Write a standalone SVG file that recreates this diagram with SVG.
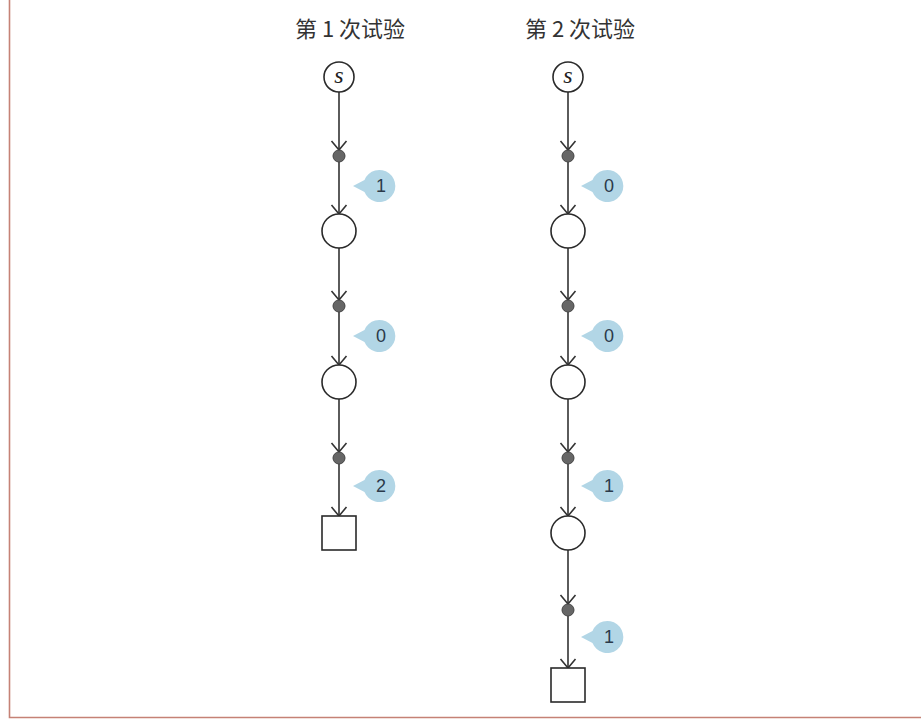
<svg xmlns="http://www.w3.org/2000/svg" width="921" height="720" viewBox="0 0 921 720">
<style>
.title{font-family:"Noto Sans CJK SC","Noto Sans",sans-serif;font-size:22px;fill:#333;text-anchor:middle}
.node{fill:#fff;stroke:#2a2a2a;stroke-width:1.6}
.dot{fill:#666;stroke:#444;stroke-width:1}
.edge{stroke:#333;stroke-width:1.6;fill:none;marker-end:url(#arr)}
.bub{fill:#b2d6e6}
.num{font-family:"Liberation Sans",Arial,sans-serif;font-size:18px;fill:#2b3a4a;text-anchor:middle}
.s{font-family:"Liberation Serif","Times New Roman",serif;font-style:italic;font-size:24px;fill:#222;text-anchor:middle}
</style>
<defs>
<marker id="arr" markerUnits="userSpaceOnUse" markerWidth="12" markerHeight="18" viewBox="0 0 12 18" refX="10" refY="9" orient="auto">
<path d="M1,1.5 L10,9 L1,16.5" fill="none" stroke="#333" stroke-width="1.6"/>
</marker>
<path id="bubble" d="M-26,0 L-14.5,-6 A16,16 0 1 1 -14.5,6 Z"/>
</defs>
<rect width="921" height="720" fill="#fff"/>
<path d="M9.5,0 V717.5 H921" fill="none" stroke="#c58276" stroke-width="1.6"/>

<text class="title" x="350" y="37">第 1 次试验</text>
<text class="title" x="580" y="37">第 2 次试验</text>

<g id="connectors">
<line class="edge" x1="339" y1="92" x2="339" y2="150"/>
<line class="edge" x1="339" y1="162" x2="339" y2="214"/>
<line class="edge" x1="339" y1="248" x2="339" y2="300"/>
<line class="edge" x1="339" y1="312" x2="339" y2="365"/>
<line class="edge" x1="339" y1="399" x2="339" y2="452"/>
<line class="edge" x1="339" y1="464" x2="339" y2="516"/>

<line class="edge" x1="568" y1="92" x2="568" y2="150"/>
<line class="edge" x1="568" y1="162" x2="568" y2="214"/>
<line class="edge" x1="568" y1="248" x2="568" y2="300"/>
<line class="edge" x1="568" y1="312" x2="568" y2="365"/>
<line class="edge" x1="568" y1="399" x2="568" y2="452"/>
<line class="edge" x1="568" y1="464" x2="568" y2="516"/>
<line class="edge" x1="568" y1="550" x2="568" y2="604"/>
<line class="edge" x1="568" y1="616" x2="568" y2="668"/>
</g>

<g id="t1-start"><circle class="node" cx="339" cy="77" r="15"/><text class="s" x="339" y="83">s</text></g>
<g id="t1-d1"><circle class="dot" cx="339" cy="156" r="6"/></g>
<g id="t1-b1"><use href="#bubble" class="bub" x="379" y="186"/><text class="num" x="381" y="192">1</text></g>
<g id="t1-n1"><circle class="node" cx="339" cy="231" r="17"/></g>
<g id="t1-d2"><circle class="dot" cx="339" cy="306" r="6"/></g>
<g id="t1-b2"><use href="#bubble" class="bub" x="379" y="336"/><text class="num" x="381" y="342">0</text></g>
<g id="t1-n2"><circle class="node" cx="339" cy="382" r="17"/></g>
<g id="t1-d3"><circle class="dot" cx="339" cy="458" r="6"/></g>
<g id="t1-b3"><use href="#bubble" class="bub" x="379" y="486"/><text class="num" x="381" y="492">2</text></g>
<g id="t1-end"><rect class="node" x="322" y="516" width="34" height="34"/></g>

<g id="t2-start"><circle class="node" cx="568" cy="77" r="15"/><text class="s" x="568" y="83">s</text></g>
<g id="t2-d1"><circle class="dot" cx="568" cy="156" r="6"/></g>
<g id="t2-b1"><use href="#bubble" class="bub" x="607" y="186"/><text class="num" x="609" y="192">0</text></g>
<g id="t2-n1"><circle class="node" cx="568" cy="231" r="17"/></g>
<g id="t2-d2"><circle class="dot" cx="568" cy="306" r="6"/></g>
<g id="t2-b2"><use href="#bubble" class="bub" x="607" y="336"/><text class="num" x="609" y="342">0</text></g>
<g id="t2-n2"><circle class="node" cx="568" cy="382" r="17"/></g>
<g id="t2-d3"><circle class="dot" cx="568" cy="458" r="6"/></g>
<g id="t2-b3"><use href="#bubble" class="bub" x="607" y="486"/><text class="num" x="609" y="492">1</text></g>
<g id="t2-n3"><circle class="node" cx="568" cy="533" r="17"/></g>
<g id="t2-d4"><circle class="dot" cx="568" cy="610" r="6"/></g>
<g id="t2-b4"><use href="#bubble" class="bub" x="607" y="637"/><text class="num" x="609" y="643">1</text></g>
<g id="t2-end"><rect class="node" x="551" y="668" width="34" height="34"/></g>
</svg>
